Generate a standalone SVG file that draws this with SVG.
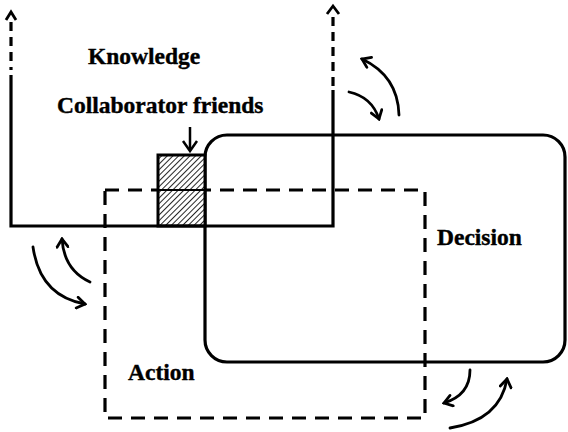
<svg xmlns="http://www.w3.org/2000/svg" width="568" height="432" viewBox="0 0 568 432">
<style>
.ln{fill:none;stroke:#000;stroke-width:3.2;}
.dsh{fill:none;stroke:#000;stroke-width:3.2;stroke-dasharray:14 9;}
.kd{fill:none;stroke:#000;stroke-width:3.2;stroke-dasharray:9 6;}
.arc{fill:none;stroke:#000;stroke-width:2.8;stroke-linecap:round;marker-end:url(#ah);}
.lbl{font-family:"Liberation Serif","Times New Roman",serif;font-weight:bold;font-size:23.5px;fill:#000;stroke:#000;stroke-width:0.4;}
</style>
<defs>
<marker id="ah" viewBox="-11 -7 13 14" refX="0" refY="0" markerWidth="13" markerHeight="14" markerUnits="userSpaceOnUse" orient="auto">
<path d="M-8,-5.5 L0,0 L-8,5.5" fill="none" stroke="#000" stroke-width="2.8" stroke-linecap="round" stroke-linejoin="miter"/>
</marker>
<pattern id="hatch" patternUnits="userSpaceOnUse" width="4" height="4" patternTransform="rotate(45)">
<rect width="4" height="4" fill="#fff"/>
<line x1="0" y1="0" x2="0" y2="4" stroke="#000" stroke-width="1.7"/>
</pattern>
</defs>
<rect width="568" height="432" fill="#fff"/>

<g id="action">
<rect class="dsh" x="105" y="190" width="320" height="228"/>
<text class="lbl" x="128" y="380">Action</text>
</g>

<g id="decision">
<rect class="ln" x="205" y="135" width="360" height="227" rx="22" ry="22"/>
<text class="lbl" x="437" y="245">Decision</text>
</g>

<g id="collaborator">
<rect x="158" y="155" width="47" height="71" fill="url(#hatch)" stroke="#000" stroke-width="3"/>
<line x1="158" y1="190" x2="205" y2="190" stroke="#000" stroke-width="2"/>
<text class="lbl" x="57" y="113">Collaborator friends</text>
</g>

<g id="knowledge">
<path class="ln" d="M11,75 L11,226 L333,226 L333,90"/>
<line class="kd" x1="11" y1="22" x2="11" y2="70"/>
<line class="kd" x1="333" y1="17" x2="333" y2="88"/>
<path d="M6,20 L11,12 L16,20" fill="none" stroke="#000" stroke-width="2.8"/>
<path d="M327,14 L333,6 L339,14" fill="none" stroke="#000" stroke-width="2.8"/>
<text class="lbl" x="88" y="64">Knowledge</text>
</g>

<g id="connectors">
<line x1="190" y1="127" x2="190" y2="150" stroke="#000" stroke-width="2.5"/>
<path d="M183,141 L190,151 L197,141" fill="none" stroke="#000" stroke-width="2.5"/>
<path class="arc" d="M399,115 Q398,76 362,59"/>
<path class="arc" d="M349,92 Q372,97 379,119"/>
<path class="arc" d="M33,247 Q40,296 85,304"/>
<path class="arc" d="M90,282 Q64,270 62,239"/>
<path class="arc" d="M470,370 Q470,395 444,403"/>
<path class="arc" d="M450,428 Q500,420 507,379"/>
</g>
</svg>
